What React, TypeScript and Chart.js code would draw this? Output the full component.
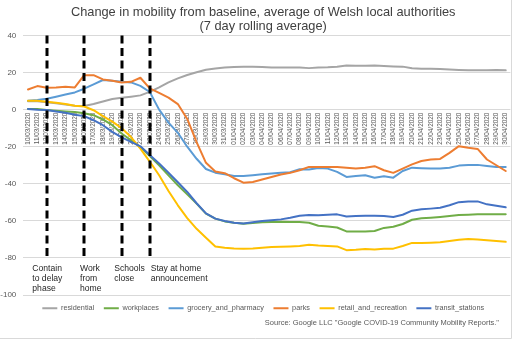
import React, { useEffect, useRef } from "react";
import { Chart, registerables } from "chart.js";

Chart.register(...registerables);

const FONT = '"Liberation Sans", Arial, Helvetica, sans-serif';

const dates = [
  "10/03/2020", "11/03/2020", "12/03/2020", "13/03/2020", "14/03/2020", "15/03/2020", "16/03/2020",
  "17/03/2020", "18/03/2020", "19/03/2020", "20/03/2020", "21/03/2020", "22/03/2020", "23/03/2020",
  "24/03/2020", "25/03/2020", "26/03/2020", "27/03/2020", "28/03/2020", "29/03/2020", "30/03/2020",
  "31/03/2020", "01/04/2020", "02/04/2020", "03/04/2020", "04/04/2020", "05/04/2020", "06/04/2020",
  "07/04/2020", "08/04/2020", "09/04/2020", "10/04/2020", "11/04/2020", "12/04/2020", "13/04/2020",
  "14/04/2020", "15/04/2020", "16/04/2020", "17/04/2020", "18/04/2020", "19/04/2020", "20/04/2020",
  "21/04/2020", "22/04/2020", "23/04/2020", "24/04/2020", "25/04/2020", "26/04/2020", "27/04/2020",
  "28/04/2020", "29/04/2020", "30/04/2020",
];

const residential = [
  4.5, 4.5, 4.0, 3.5, 2.8, 2.1, 2.0, 3.0, 4.4, 5.7,
  6.4, 7.0, 7.7, 9.6, 12.0, 14.7, 16.9, 18.7, 20.2, 21.5,
  22.2, 22.7, 23.0, 23.2, 23.2, 23.0, 22.8, 22.7, 22.7, 22.8,
  22.4, 22.8, 22.9, 23.2, 23.8, 23.7, 23.7, 23.8, 23.5, 23.3,
  23.2, 22.3, 22.1, 22.1, 21.9, 21.6, 21.4, 21.2, 21.2, 21.2,
  21.4, 21.2,
];

const workplaces = [
  0.4, 0.3, -0.2, -0.6, -1.0, -1.3, -2.0, -3.0, -5.3, -8.4,
  -12.9, -16.5, -20.2, -25.0, -30.0, -35.5, -40.8, -45.7, -50.7, -56.1,
  -58.8, -60.3, -61.0, -61.5, -61.2, -60.8, -60.6, -60.5, -60.6, -60.6,
  -61.0, -62.6, -63.0, -63.6, -65.7, -65.7, -65.7, -65.5, -63.8, -63.2,
  -61.7, -59.4, -58.6, -58.3, -57.9, -57.4, -56.9, -56.7, -56.5, -56.5,
  -56.5, -56.4,
];

const groceryAndPharmacy = [
  4.8, 5.2, 5.9, 7.0, 8.2, 9.3, 11.3, 13.6, 16.0, 15.6,
  15.0, 14.7, 12.8, 9.5, 0.0, -7.0, -12.5, -20.0, -26.5, -32.0,
  -34.0, -34.9, -35.8, -35.8, -35.4, -34.9, -34.5, -34.1, -33.8, -32.2,
  -32.3, -31.5, -31.8, -33.6, -36.3, -35.8, -35.4, -36.7, -35.9, -36.7,
  -33.1, -31.3, -31.6, -31.8, -31.8, -31.3, -30.2, -29.8, -29.8, -30.4,
  -30.9, -30.9,
];

const parks = [
  10.9, 12.7, 11.8, 12.0, 12.4, 12.0, 18.6, 18.6, 16.3, 15.6,
  14.7, 15.0, 17.2, 11.5, 9.0, 6.5, 3.0, -5.0, -17.5, -28.7,
  -33.4, -34.3, -37.0, -39.4, -39.0, -37.7, -36.3, -35.0, -34.1, -32.7,
  -30.9, -30.9, -30.9, -30.9, -31.4, -31.8, -31.4, -30.5, -32.7, -34.1,
  -31.8, -29.5, -27.7, -26.9, -26.6, -23.3, -19.7, -20.6, -21.2, -26.9,
  -30.0, -33.1,
];

const retailAndRecreation = [
  4.8, 4.8, 4.2, 3.7, 3.0, 2.1, 1.7, -0.3, -3.5, -6.5,
  -10.0, -14.8, -21.0, -28.0, -35.4, -43.9, -51.6, -58.5, -64.3, -69.1,
  -73.8, -74.5, -74.9, -75.0, -74.9, -74.5, -74.1, -74.0, -73.8, -73.6,
  -72.9, -73.3, -73.5, -73.8, -75.8, -75.6, -75.2, -75.4, -75.0, -75.0,
  -73.6, -71.9, -71.9, -71.8, -71.6, -70.9, -70.2, -69.8, -70.0, -70.5,
  -70.9, -71.3,
];

const transitStations = [
  0.4, 0.0, -0.2, -1.0, -1.7, -2.8, -3.5, -5.7, -8.4, -12.0,
  -15.0, -17.4, -19.8, -24.5, -29.0, -34.0, -39.2, -44.4, -50.5, -56.0,
  -58.8, -60.1, -61.0, -61.4, -60.8, -60.1, -59.7, -59.2, -58.3, -57.2,
  -56.8, -57.0, -56.7, -56.5, -57.6, -57.4, -57.2, -57.2, -57.4, -57.9,
  -56.7, -54.5, -53.8, -53.4, -52.9, -51.6, -49.9, -49.5, -49.5, -51.1,
  -51.8, -52.7,
];

const seriesLabels = [
  "residential",
  "workplaces",
  "grocery_and_pharmacy",
  "parks",
  "retail_and_recreation",
  "transit_stations",
];
const seriesColors = ["#A5A5A5", "#70AD47", "#5B9BD5", "#ED7D31", "#FFC000", "#4472C4"];
const seriesValues = [residential, workplaces, groceryAndPharmacy, parks, retailAndRecreation, transitStations];

const yMin = -100;
const yMax = 40;
const yStep = 20;

const titleLines = [
  "Change in mobility from baseline, average of Welsh local authorities",
  "(7 day rolling average)",
];
const sourceText = 'Source: Google LLC "Google COVID-19 Community Mobility Reports."';

const eventDates = ["12/03/2020", "16/03/2020", "20/03/2020", "23/03/2020"];
const eventLabels = [
  ["Contain", "to delay", "phase"],
  ["Work", "from", "home"],
  ["Schools", "close"],
  ["Stay at home", "announcement"],
];
const eventLabelOffsets = [-14.4, -4.2, -7.4, 0.9];
const eventLineTop = 40;
const eventLineBottom = -81;

const overlayPlugin = {
  id: "overlay",
  afterLayout(chart: any) {
    // let the y tick labels use the whole left margin (avoid clipping)
    const y = chart.scales.y;
    if (y) y.left = 0;
  },
  afterDatasetsDraw(chart: any) {
    const { ctx } = chart;
    const x = chart.scales.x;
    const y = chart.scales.y;
    ctx.save();
    ctx.strokeStyle = "#000000";
    ctx.lineWidth = 3;
    ctx.setLineDash([8, 4.5]);
    eventDates.forEach((d) => {
      const px = Math.round(x.getPixelForValue(dates.indexOf(d)));
      ctx.beginPath();
      ctx.moveTo(px, y.getPixelForValue(eventLineTop));
      ctx.lineTo(px, y.getPixelForValue(eventLineBottom));
      ctx.stroke();
    });
    ctx.setLineDash([]);
    ctx.fillStyle = "#262626";
    ctx.font = `8.6px ${FONT}`;
    ctx.textAlign = "left";
    ctx.textBaseline = "middle";
    eventDates.forEach((d, k) => {
      const px = x.getPixelForValue(dates.indexOf(d)) + eventLabelOffsets[k];
      const y0 = y.getPixelForValue(-80) + 10.5;
      eventLabels[k].forEach((t, j) => ctx.fillText(t, px, y0 + j * 10));
    });
    ctx.restore();
  },
  afterDraw(chart: any) {
    const { ctx } = chart;
    ctx.save();
    ctx.fillStyle = "#595959";
    ctx.font = `7.5px ${FONT}`;
    ctx.textAlign = "right";
    ctx.textBaseline = "middle";
    ctx.fillText(sourceText, 499, 323);
    ctx.strokeStyle = "#d9d9d9";
    ctx.lineWidth = 1;
    ctx.beginPath();
    ctx.moveTo(511.5, 0);
    ctx.lineTo(511.5, 338.5);
    ctx.lineTo(0, 338.5);
    ctx.stroke();
    ctx.restore();
  },
};

export default function App() {
  const canvasRef = useRef<HTMLCanvasElement>(null);

  useEffect(() => {
    if (!canvasRef.current) return;
    const order = [5, 4, 3, 2, 1, 0]; // transit drawn on top
    const datasets = order.map((i) => ({
      label: seriesLabels[i],
      data: seriesValues[i],
      borderColor: seriesColors[i],
      backgroundColor: seriesColors[i],
      borderWidth: 2,
      pointRadius: 0,
      pointHoverRadius: 0,
      tension: 0,
      borderJoinStyle: "round" as const,
      borderCapStyle: "round" as const,
      fill: false,
    }));

    const chart = new Chart(canvasRef.current, {
      type: "line",
      data: { labels: dates, datasets },
      options: {
        animation: false,
        responsive: false,
        maintainAspectRatio: false,
        events: [],
        layout: { padding: { left: 16, right: 12.6, top: 0, bottom: 18.1 } },
        plugins: {
          title: {
            display: true,
            text: titleLines,
            color: "#404040",
            font: { family: FONT, size: 12.8, weight: "normal", lineHeight: 14 / 12.8 },
            padding: { top: 5.7, bottom: 1.8 },
          },
          legend: {
            display: true,
            position: "bottom",
            labels: {
              boxWidth: 15,
              boxHeight: 2,
              padding: 9.6,
              color: "#595959",
              font: { family: FONT, size: 7.3 },
              generateLabels: () =>
                seriesLabels.map((label, i) => ({
                  text: label,
                  fillStyle: seriesColors[i],
                  strokeStyle: seriesColors[i],
                  lineWidth: 0,
                  hidden: false,
                  datasetIndex: order.indexOf(i),
                  fontColor: "#595959",
                })),
            },
          },
          tooltip: { enabled: false },
        },
        scales: {
          x: {
            type: "category",
            position: { y: 0 } as any,
            offset: true,
            grid: { display: false, drawTicks: false },
            border: { display: false },
            ticks: {
              autoSkip: false,
              minRotation: 90,
              maxRotation: 90,
              padding: 3,
              color: "#595959",
              font: { family: FONT, size: 6.4 },
            },
          },
          y: {
            min: yMin,
            max: yMax,
            ticks: {
              stepSize: yStep,
              padding: 7,
              color: "#595959",
              font: { family: FONT, size: 8 },
            },
            grid: { color: "#d9d9d9", lineWidth: 1, drawTicks: false },
            border: { display: false },
            afterFit: (scale: any) => {
              scale.width = 7.3;
            },
          },
        },
      },
      plugins: [overlayPlugin],
    } as any);

    return () => chart.destroy();
  }, []);

  return (
    <div style={{ position: "fixed", left: 0, top: 0, width: 523, height: 340, background: "#ffffff" }}>
      <canvas ref={canvasRef} width={523} height={340} style={{ display: "block", width: 523, height: 340 }} />
    </div>
  );
}
